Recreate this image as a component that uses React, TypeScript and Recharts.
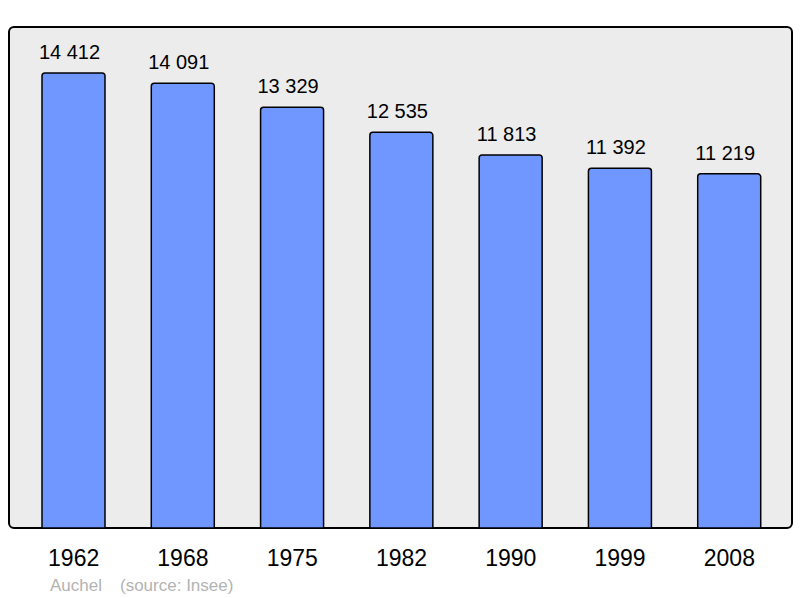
import React from 'react';
import { BarChart, Bar, XAxis, YAxis, LabelList } from 'recharts';

const years = ['1962', '1968', '1975', '1982', '1990', '1999', '2008'];
const population = [14412, 14091, 13329, 12535, 11813, 11392, 11219];
const valueLabels = ['14 412', '14 091', '13 329', '12 535', '11 813', '11 392', '11 219'];

const data = years.map((y, i) => ({ year: y, pop: population[i], label: valueLabels[i] }));

const FONT = '"Liberation Sans", Arial, sans-serif';

const renderValue = (props: any) => {
  const { x, y, width, value } = props;
  return (
    <text
      x={Number(x) + Number(width) / 2 - 4}
      y={Number(y) - 14}
      textAnchor="middle"
      fill="#000"
      fontSize={20}
      fontFamily={FONT}
    >
      {value}
    </text>
  );
};

export default function App() {
  return (
    <div style={{ position: 'absolute', left: 0, top: 0, width: 800, height: 598, background: '#fff', fontFamily: FONT }}>
      <div
        style={{
          position: 'absolute',
          left: 8,
          top: 26,
          width: 781,
          height: 499,
          border: '2px solid #000',
          borderRadius: 6,
          background: '#ececec',
        }}
      />
      <div style={{ position: 'absolute', left: 0, top: 0 }}>
        <BarChart
          width={800}
          height={598}
          data={data}
          margin={{ top: 27, right: 8, bottom: 40, left: 9 }}
          barSize={63}
        >
          <YAxis hide domain={[0, 15870]} />
          <XAxis
            dataKey="year"
            height={30}
            axisLine={false}
            tickLine={false}
            padding={{ left: 10, right: 8 }}
            tick={{ fill: '#000', fontSize: 23, fontFamily: FONT }}
            tickMargin={16}
            interval={0}
          />
          <Bar
            dataKey="pop"
            fill="#7096ff"
            stroke="#000"
            strokeWidth={1.5}
            radius={[3, 3, 0, 0]}
            isAnimationActive={false}
          >
            <LabelList dataKey="label" content={renderValue} />
          </Bar>
        </BarChart>
      </div>
      <div style={{ position: 'absolute', left: 50, top: 576, fontSize: 17, color: '#b3b3b3', whiteSpace: 'pre', lineHeight: '20px' }}>
        Auchel
      </div>
      <div style={{ position: 'absolute', left: 120, top: 576, fontSize: 17, color: '#b3b3b3', whiteSpace: 'pre', lineHeight: '20px' }}>
        (source: Insee)
      </div>
    </div>
  );
}
